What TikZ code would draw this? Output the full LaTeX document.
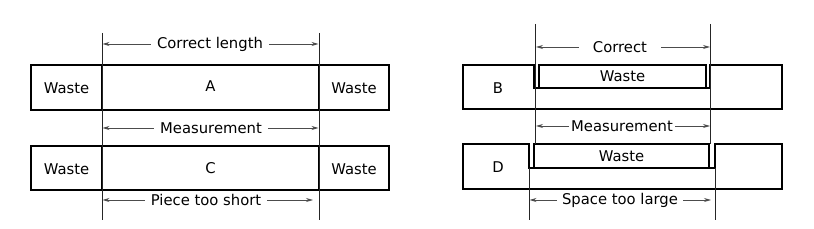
\documentclass[tikz,border=0pt]{standalone}
\usepackage{fontspec}
\setmainfont{DejaVu Sans}
\usetikzlibrary{arrows.meta}
\begin{document}
\begin{tikzpicture}[x=1pt,y=-1pt,
  box/.style={line width=1.8pt, line join=miter},
  dimline/.style={line width=0.7pt, draw=black!85},
  arr/.style={line width=0.8pt, draw=black!70, -{Stealth[length=7pt,width=4pt]}},
  lbl/.style={font=\fontsize{14.8}{17}\selectfont, inner sep=0pt},
  dlbl/.style={lbl, inner xsep=6pt}]
\useasboundingbox (0,0) rectangle (814,229);

% ---------- left: A ----------
\draw[box] (31,65) rectangle (389,110);
\draw[box] (102,65) -- (102,110) (319,65) -- (319,110);
\node[lbl] (wa1) at (66.5,88) {Waste};
\node[lbl] (A)   at (210.5,86) {A};
\node[lbl] (wa2) at (354,88) {Waste};

% ---------- left: C ----------
\draw[box] (31,146) rectangle (389,190);
\draw[box] (102,146) -- (102,190) (319,146) -- (319,190);
\node[lbl] (wc1) at (66.5,169) {Waste};
\node[lbl] (C)   at (210.5,168) {C};
\node[lbl] (wc2) at (354,169) {Waste};

% left dimension lines
\draw[dimline] (102,33) -- (102,220) (319,33) -- (319,220);

\node[dlbl] (cl) at (210,44) {Correct length};
\coordinate (cl1) at (102.5,44); \coordinate (cl2) at (318.5,44);
\draw[arr] (cl) -- (cl1); \draw[arr] (cl) -- (cl2);

\node[dlbl] (ml) at (211,128) {Measurement};
\coordinate (ml1) at (102.5,128); \coordinate (ml2) at (318.5,128);
\draw[arr] (ml) -- (ml1); \draw[arr] (ml) -- (ml2);

\node[dlbl] (ps) at (206,200) {Piece too short};
\coordinate (ps1) at (102.5,200); \coordinate (ps2) at (313,200);
\draw[arr] (ps) -- (ps1); \draw[arr] (ps) -- (ps2);

% ---------- right: B ----------
\draw[box] (463,65) -- (534,65) -- (534,88) -- (710,88) -- (710,65) -- (782,65)
  -- (782,109) -- (463,109) -- cycle;
\draw[box] (539,88) -- (539,65) -- (706,65) -- (706,88);
\node[lbl] (B)  at (498,88) {B};
\node[lbl] (wb) at (622.5,76) {Waste};

% ---------- right: D ----------
\draw[box] (463,144) -- (529,144) -- (529,168) -- (715,168) -- (715,144) -- (782,144)
  -- (782,189) -- (463,189) -- cycle;
\draw[box] (534,168) -- (534,144) -- (709,144) -- (709,168);
\node[lbl] (D)  at (498,167) {D};
\node[lbl] (wd) at (621.5,156) {Waste};

% right dimension lines
\draw[dimline] (535.5,24) -- (535.5,144) (710.5,24) -- (710.5,144);
\draw[dimline] (529,168) -- (529,220) (715,168) -- (715,220);

\node[lbl, inner xsep=14pt] (cr) at (620,47) {Correct};
\coordinate (cr1) at (536,47); \coordinate (cr2) at (710,47);
\draw[arr] (cr) -- (cr1); \draw[arr] (cr) -- (cr2);

\node[lbl, inner xsep=2pt] (mr) at (622,126) {Measurement};
\coordinate (mr1) at (536,126); \coordinate (mr2) at (710,126);
\draw[arr] (mr) -- (mr1); \draw[arr] (mr) -- (mr2);

\node[lbl, inner xsep=5pt] (sl) at (620,200) {Space too large};
\coordinate (sl1) at (529.5,200); \coordinate (sl2) at (711,200);
\draw[arr] (sl) -- (sl1); \draw[arr] (sl) -- (sl2);
\end{tikzpicture}
\end{document}
